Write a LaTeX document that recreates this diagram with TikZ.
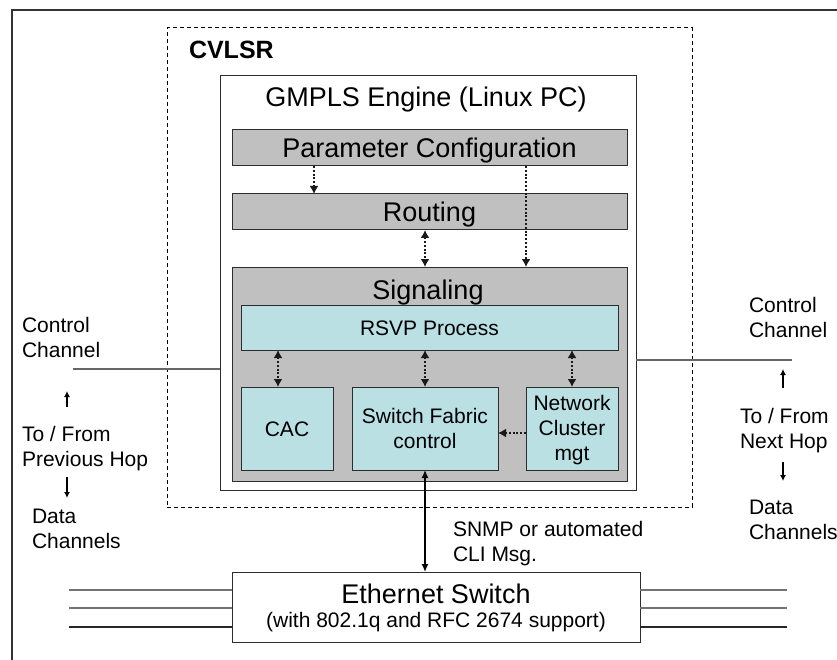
\documentclass[tikz,border=0pt]{standalone}
\usepackage{fontspec}
\setmainfont{Liberation Sans}
\usetikzlibrary{arrows.meta}
\definecolor{boxgray}{RGB}{192,192,192}
\definecolor{cellteal}{RGB}{186,224,228}
\definecolor{edgecol}{RGB}{45,45,45}
\begin{document}
\begin{tikzpicture}[x=1pt,y=-1pt,
  every node/.style={inner sep=0pt, outer sep=0pt},
  blk/.style={draw=edgecol, line width=1pt, anchor=north west},
  graybox/.style={blk, fill=boxgray},
  tealbox/.style={blk, fill=cellteal},
  bigtxt/.style={font=\fontsize{27}{30}\selectfont},
  smalltxt/.style={font=\fontsize{21}{25}\selectfont},
  capbig/.style={text height=19.3pt, text depth=0pt},
  capsmall/.style={text height=15pt, text depth=0pt},
  sidelabel/.style={smalltxt, align=left, anchor=north west},
  dotline/.style={draw=black!90, line width=2.2pt, dash pattern=on 2pt off 1.8pt},
  dotone/.style={dotline, -{Latex[length=8pt,width=9pt]}},
  dotboth/.style={dotline, {Latex[length=8pt,width=9pt]}-{Latex[length=8pt,width=9pt]}},
  sidearrow/.style={draw=black, line width=1.6pt, -{Latex[length=6pt,width=6pt]}},
  ctlline/.style={draw=black!60, line width=1.4pt},
  datline/.style={draw=black!55, line width=1.8pt},
  datlinedark/.style={draw=black!85, line width=1.3pt}]

\useasboundingbox (0,0) rectangle (837,660);

% outer frame
\draw[black!80, line width=1.5pt] (12,660) -- (12,10) -- (837,10);

% CVLSR dashed enclosure
\node[draw=black, line width=1pt, dash pattern=on 4pt off 3pt, anchor=north west,
      minimum width=525pt, minimum height=479pt] (cvlsr) at (167,28) {};
\node[anchor=base west, font=\fontsize{25}{30}\selectfont\bfseries] (cvlsrtitle) at (189,59) {CVLSR};

% GMPLS engine
\node[blk, fill=white, minimum width=416pt, minimum height=414pt] (gmpls) at (220,76) {};
\node[anchor=base, bigtxt] (gmplstitle) at (426,107) {GMPLS Engine (Linux PC)};

\node[graybox, bigtxt, capbig, minimum width=395pt, minimum height=36pt] (param) at (232,130) {Parameter Configuration};
\node[graybox, bigtxt, capbig, minimum width=395pt, minimum height=36pt] (rout) at (232,194) {Routing};
\node[graybox, minimum width=395pt, minimum height=214pt] (sig) at (232,267) {};
\node[anchor=base, bigtxt] (sigtitle) at (428,299) {Signaling};

\node[tealbox, smalltxt, capsmall, minimum width=377pt, minimum height=45pt] (rsvp) at (241,305) {RSVP Process};
\node[tealbox, smalltxt, capsmall, minimum width=92pt, minimum height=83pt] (cac) at (241,387) {CAC};
\node[tealbox, smalltxt, align=center, minimum width=146pt, minimum height=83pt] (sfc) at (352,387) {Switch Fabric\\control};
\node[tealbox, minimum width=92pt, minimum height=83pt] (ncm) at (526,387) {};
\node[smalltxt, align=center, yshift=-2pt] (ncmtext) at (ncm.center) {Network\\Cluster\\mgt};

% internal dotted relations
\draw[dotone]  (param.south -| 314,0) -- (rout.north -| 314,0);
\draw[dotone]  (param.south -| 526,0) -- (sig.north -| 526,0);
\draw[dotboth] (rout.south -| 425,0) -- (sig.north -| 425,0);
\draw[dotboth] (rsvp.south -| 278,0) -- (cac.north -| 278,0);
\draw[dotboth] (rsvp.south -| sfc.north) -- (sfc.north);
\draw[dotboth] (rsvp.south -| ncm.north) -- (ncm.north);
\draw[dotone]  (ncm.west |- 0,433) -- (sfc.east |- 0,433);

% Ethernet switch
\node[blk, fill=white, minimum width=408pt, minimum height=70pt] (eth) at (232,572) {};
\node[anchor=base, bigtxt] (ethtitle) at (436,603) {Ethernet Switch};
\node[anchor=base, smalltxt] (ethsub) at (436,627) {(with 802.1q and RFC 2674 support)};

\draw[draw=black, line width=1.4pt, {Latex[length=8pt,width=7pt]}-{Latex[length=8pt,width=7pt]}]
  (sfc.south) -- (eth.north -| sfc.south);
\node[sidelabel] (snmp) at (453,521) {SNMP or automated\\CLI Msg.};

% data channels
\draw[datline] (69,590) -- (eth.west |- 0,590);
\draw[datline] (69,608) -- (eth.west |- 0,608);
\draw[datlinedark] (69,627) -- (eth.west |- 0,627);
\draw[datline] (eth.east |- 0,590) -- (787,590);
\draw[datline] (eth.east |- 0,608) -- (787,608);
\draw[datlinedark] (eth.east |- 0,627) -- (787,627);

% control channels
\draw[ctlline] (73,369) -- (gmpls.west |- 0,369);
\draw[ctlline] (gmpls.east |- 0,360) -- (792,360);

% previous hop side
\node[sidelabel] (lctl) at (22,317) {Control\\Channel};
\node[sidelabel] (lhop) at (22,426) {To / From\\Previous Hop};
\node[sidelabel] (ldata) at (32,509) {Data\\Channels};
\coordinate (lup0) at (67,407);
\coordinate (lup1) at (67,391);
\coordinate (ldn0) at (67,477);
\coordinate (ldn1) at (67,498);
\draw[sidearrow] (lup0) -- (lup1);
\draw[sidearrow] (ldn0) -- (ldn1);

% next hop side
\node[sidelabel] (rctl) at (749,297) {Control\\Channel};
\node[sidelabel] (rhop) at (740,408) {To / From\\Next Hop};
\node[sidelabel] (rdata) at (749,500) {Data\\Channels};
\coordinate (rup0) at (783,388);
\coordinate (rup1) at (783,369);
\coordinate (rdn0) at (783,462);
\coordinate (rdn1) at (783,481);
\draw[sidearrow] (rup0) -- (rup1);
\draw[sidearrow] (rdn0) -- (rdn1);

\end{tikzpicture}
\end{document}
